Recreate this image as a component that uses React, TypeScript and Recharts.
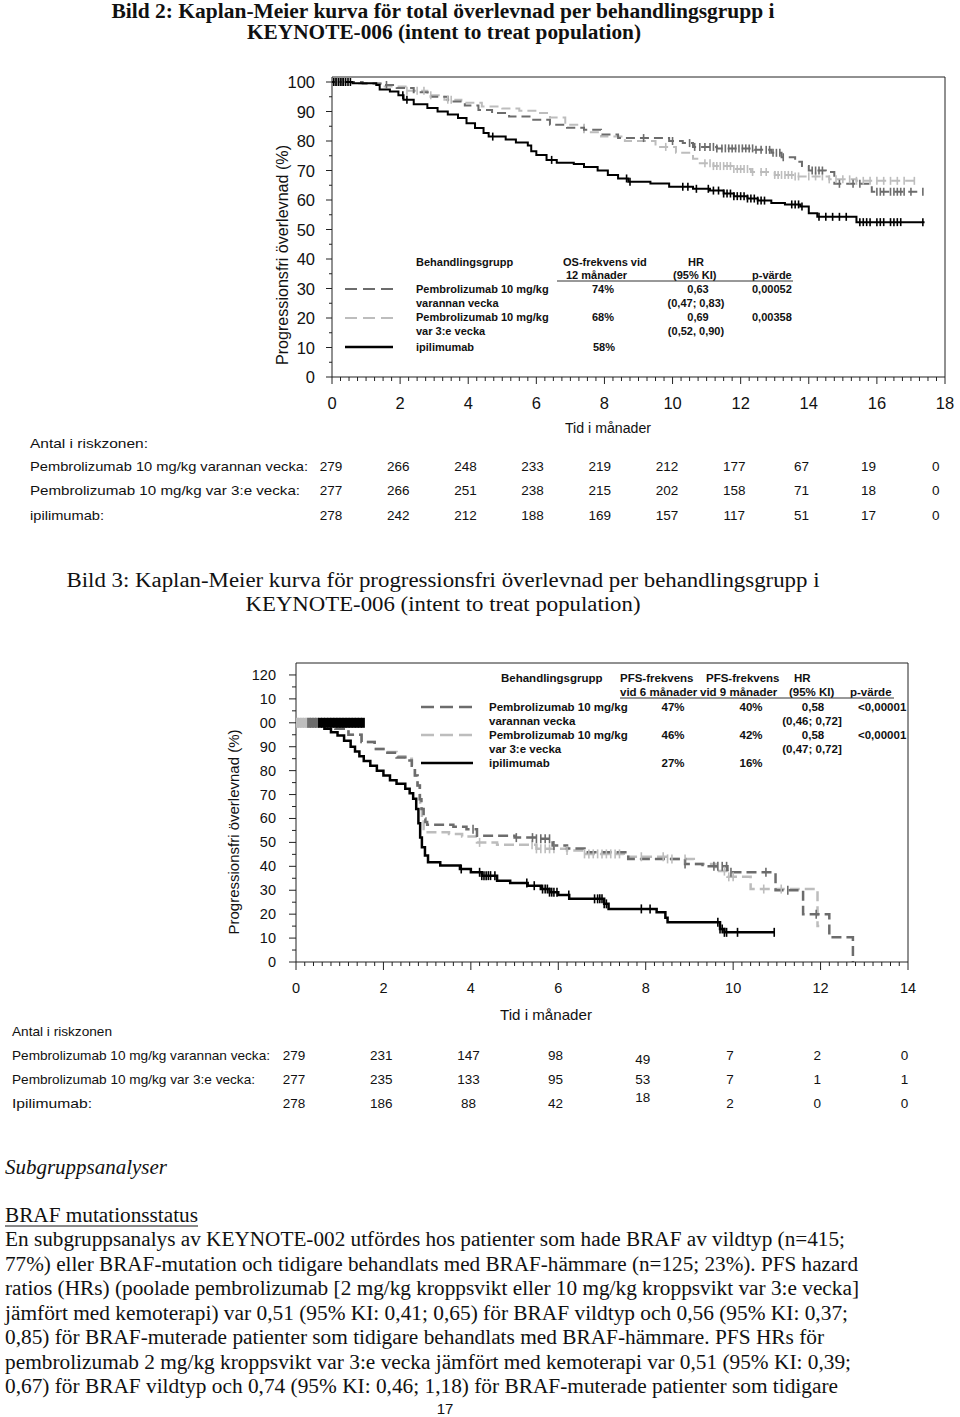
import React from 'react';
import { ComposedChart, Line, Scatter, XAxis, YAxis, ReferenceLine } from 'recharts';

type Pt = [number, number];

// ================= Bild 2: OS =================
const osXTicks = [0, 2, 4, 6, 8, 10, 12, 14, 16, 18];
const osXTickLabels = ['0', '2', '4', '6', '8', '10', '12', '14', '16', '18'];
const osYTicks = [0, 10, 20, 30, 40, 50, 60, 70, 80, 90, 100];
const osYTickLabels = ['0', '10', '20', '30', '40', '50', '60', '70', '80', '90', '100'];

const osQ2w: Pt[] = [[0,100],[0.9,99.5],[1.5,99],[1.9,98],[2.4,96.5],[2.9,95],[3.4,93.4],[3.9,92],[4.3,90.5],[4.7,89.5],[5.2,88.3],[5.8,87.2],[6.4,85.5],[6.9,84.5],[7.4,83.8],[7.9,82.2],[8.4,81],[9.9,80],[10.3,79.3],[10.6,78],[11.3,77.5],[12.4,77],[12.9,76],[13.2,74.5],[13.6,73],[13.8,71.5],[14.0,70],[14.5,69.5],[14.75,65.5],[15.75,64.7],[15.85,62.8],[17.35,62.8]];
const osQ3w: Pt[] = [[0,100],[0.8,99.5],[1.5,98.5],[2.2,97],[2.8,95.5],[3.3,94],[3.8,93],[4.4,91.7],[5.0,91],[5.5,90.3],[6.05,89.5],[6.4,88],[6.85,85.5],[7.4,83],[7.9,81.5],[8.6,80],[9.5,78],[10.1,76],[10.6,74],[10.8,72.5],[11.2,71.5],[11.8,70.5],[12.3,69.5],[13.0,68.5],[13.6,68],[14.6,67],[15.4,66.5],[17.1,66.5]];
const osIpi: Pt[] = [[0,100],[0.6,99.6],[1.3,99],[1.4,97.5],[1.7,96.8],[1.95,95.5],[2.1,94],[2.4,92.5],[2.8,91.2],[3.1,90],[3.4,89],[3.7,87.8],[3.95,86],[4.2,84.4],[4.45,82.7],[4.6,81.5],[5.1,80.5],[5.4,79.5],[5.75,78.5],[5.85,76.5],[6.0,75.3],[6.3,73.6],[6.6,72.6],[7.1,72.2],[7.4,71.2],[7.8,70],[8.1,68.5],[8.4,67.3],[8.7,66.2],[9.35,65.6],[9.9,64.5],[10.6,63.8],[11.1,63.2],[11.5,62.2],[11.8,61.3],[12.2,60.5],[12.5,59.8],[12.9,59],[13.3,58.5],[13.75,57.8],[14.0,55.5],[14.25,54.3],[15.4,52.5],[17.4,52.5]];

const osQ2wCensor = [0.1,0.2,0.3,1.6,9.15,10.0,10.5,10.65,10.8,10.95,11.1,11.2,11.3,11.45,11.55,11.65,11.75,11.85,11.95,12.05,12.15,12.25,12.35,12.45,12.6,12.75,12.85,12.95,13.05,13.15,13.25,14.1,14.2,14.3,14.4,14.9,15.3,15.5,16.0,16.1,16.2,16.4,16.5,16.6,16.7,16.8,17.0,17.35];
const osQ3wCensor = [0.15,0.25,0.35,2.2,2.5,2.7,2.9,3.4,3.5,9.8,10.95,11.1,11.2,11.3,11.4,11.5,11.6,11.7,11.8,11.9,12.0,12.1,12.2,12.35,12.6,12.75,13.0,13.1,13.2,13.3,13.4,13.5,13.6,13.7,14.0,14.2,14.4,14.6,14.8,15.0,15.2,15.4,15.6,15.8,16.0,16.2,16.4,16.6,16.8,17.1];
const osIpiCensor = [0.05,0.12,0.19,0.26,0.33,0.4,0.47,0.54,2.08,2.2,4.72,6.45,8.65,8.75,10.3,10.45,10.7,11.05,11.2,11.35,11.5,11.6,11.7,11.8,11.9,12.0,12.1,12.2,12.3,12.4,12.5,12.6,12.7,13.5,13.6,13.7,13.8,14.3,14.5,14.7,14.9,15.1,15.5,15.6,15.7,15.8,16.0,16.1,16.2,16.4,16.5,16.6,16.7,17.35];

const osRiskQ2w = [279, 266, 248, 233, 219, 212, 177, 67, 19, 0];
const osRiskQ3w = [277, 266, 251, 238, 215, 202, 158, 71, 18, 0];
const osRiskIpi = [278, 242, 212, 188, 169, 157, 117, 51, 17, 0];
const osRiskMonths = [0, 2, 4, 6, 8, 10, 12, 14, 16, 18];

// ================= Bild 3: PFS =================
const pfsXTicks = [0, 2, 4, 6, 8, 10, 12, 14];
const pfsXTickLabels = ['0', '2', '4', '6', '8', '10', '12', '14'];
const pfsYTicks = [0, 10, 20, 30, 40, 50, 60, 70, 80, 90, 100, 110, 120];
const pfsYTickLabels = ['0', '10', '20', '30', '40', '50', '60', '70', '80', '90', '00', '10', '120'];

const pfsQ2w: Pt[] = [[0,100],[0.6,99],[0.9,97.5],[1.2,95],[1.5,92],[1.8,89],[2.0,87.5],[2.3,85.5],[2.5,84.2],[2.65,82],[2.72,78],[2.78,73.8],[2.83,68],[2.87,64],[2.92,60],[2.96,58.5],[3.0,57.4],[3.6,56.5],[3.9,55.5],[4.14,52.8],[5.0,52],[5.5,51.5],[5.87,48.7],[6.2,47.5],[6.6,45.9],[7.6,43.1],[8.9,41],[9.3,40],[9.87,37.5],[10.97,30],[11.6,20],[12.2,10.3],[12.74,0]];
const pfsQ3w: Pt[] = [[0,100],[0.5,99],[0.9,97.5],[1.2,95],[1.5,92],[1.8,89],[2.0,87.8],[2.3,86],[2.5,85],[2.65,82],[2.72,78],[2.78,73.8],[2.84,66],[2.88,60],[2.92,55.6],[2.96,54.2],[3.5,53.5],[3.8,52.5],[4.14,50],[4.6,49],[5.5,47.3],[6.2,46.6],[6.6,45.2],[7.5,44],[8.5,43.1],[9.1,41],[9.6,38],[9.87,35.6],[10.4,30.5],[11.93,15],[11.97,15]];
const pfsIpi: Pt[] = [[0,100],[0.5,99],[0.65,97.5],[0.8,96],[0.95,94.7],[1.1,92.5],[1.25,90],[1.35,88],[1.45,86],[1.55,84],[1.7,82],[1.85,80],[2.0,78],[2.15,76],[2.3,74.5],[2.5,72.4],[2.6,70.5],[2.68,68.2],[2.75,64],[2.8,58],[2.84,52],[2.88,48],[2.95,44.5],[3.02,41.7],[3.3,40.3],[3.75,38.9],[4.0,37.5],[4.25,36.1],[4.6,34],[4.9,33],[5.3,31.9],[5.6,30.5],[5.8,29.2],[6.0,28],[6.25,26.4],[7.05,24.3],[7.15,22.2],[8.25,20.8],[8.45,18.5],[8.5,16.6],[9.7,13.8],[9.8,12.4],[10.95,12.4]];

const pfsStartLevel = 100;
const pfsStartQ3w = [0.02, 0.08, 0.14, 0.2, 0.26];
const pfsStartQ2w = [0.3, 0.36, 0.42, 0.48];
const pfsStartIpi = [0.55, 0.62, 0.69, 0.76, 0.83, 0.9, 0.97, 1.04, 1.11, 1.18, 1.25, 1.32, 1.39, 1.46, 1.53];

const pfsQ2wCensor = [4.05,5.04,5.41,5.5,5.6,5.7,5.8,5.9,8.9,9.56,9.65,9.75,9.85,9.95,10.75,11.25,11.9];
const pfsQ3wCensor = [4.2,5.4,5.5,5.6,5.7,5.8,5.9,6.2,6.6,6.7,6.8,6.9,7.0,7.1,7.2,7.3,7.4,7.9,8.4,8.5,8.6,8.9,9.8,9.9,10.0,10.7,11.1];
const pfsIpiCensor = [3.78,4.2,4.25,4.3,4.35,4.4,4.45,4.55,5.28,5.45,5.64,5.7,5.75,5.8,5.85,5.9,5.97,6.24,6.83,6.9,6.95,7.0,7.05,7.1,7.9,8.1,9.65,9.7,9.75,9.8,9.85,10.1,10.94];

const pfsRiskQ2w = [279, 231, 147, 98, 49, 7, 2, 0];
const pfsRiskQ3w = [277, 235, 133, 95, 53, 7, 1, 1];
const pfsRiskIpi = [278, 186, 88, 42, 18, 2, 0, 0];
const pfsRiskMonths = [0, 2, 4, 6, 8, 10, 12, 14];

// ================= helpers =================
const SANS = "'Liberation Sans', Arial, Helvetica, sans-serif";
const SERIF = "'Liberation Serif', 'Times New Roman', Times, serif";
const DARK = '#6c6c6c';
const LIGHT = '#bdbdbd';

const toData = (c: Pt[]) => c.map(([t, s]) => ({ t, s }));
const stepAt = (c: Pt[], t: number) => {
  let s = c[0][1];
  for (const [x, y] of c) if (x <= t) s = y;
  return s;
};
const censorData = (c: Pt[], times: number[]) => times.map((t) => ({ t, s: stepAt(c, t) }));
const levelData = (level: number, times: number[]) => times.map((t) => ({ t, s: level }));

const range = (start: number, end: number, step: number) => {
  const out: number[] = [];
  const n = Math.round((end - start) / step);
  for (let i = 0; i <= n; i++) out.push(+(start + i * step).toFixed(4));
  return out;
};

type AxisCfg = { majors: number[]; labels: string[]; majorLen: number; minorLen: number; gap: number; fontSize: number };

function renderXTick(p: any, cfg: AxisCfg) {
  const v = Number(p.payload.value);
  const idx = cfg.majors.findIndex((m) => Math.abs(m - v) < 1e-6);
  const major = idx >= 0;
  return (
    <g>
      <line x1={p.x} x2={p.x} y1={p.y} y2={p.y + (major ? cfg.majorLen : cfg.minorLen)} stroke="#222" strokeWidth={1} />
      {major && (
        <text x={p.x} y={p.y + cfg.gap} textAnchor="middle" dominantBaseline="central" fontFamily={SANS} fontSize={cfg.fontSize} fill="#111">
          {cfg.labels[idx]}
        </text>
      )}
    </g>
  );
}

function renderYTick(p: any, cfg: AxisCfg) {
  const v = Number(p.payload.value);
  const idx = cfg.majors.findIndex((m) => Math.abs(m - v) < 1e-6);
  const major = idx >= 0;
  return (
    <g>
      <line x1={p.x - (major ? cfg.majorLen : cfg.minorLen)} x2={p.x} y1={p.y} y2={p.y} stroke="#222" strokeWidth={1} />
      {major && (
        <text x={p.x - cfg.gap} y={p.y} textAnchor="end" dominantBaseline="central" fontFamily={SANS} fontSize={cfg.fontSize} fill="#111">
          {cfg.labels[idx]}
        </text>
      )}
    </g>
  );
}

const tickShape = (h: number, color: string, w: number) => (p: any) => (
  <line x1={p.cx} x2={p.cx} y1={p.cy - h / 2} y2={p.cy + h / 2} stroke={color} strokeWidth={w} />
);

type CurveSpec = { data: Pt[]; color: string; dash?: string; width: number; censor: number[]; extra?: number[] };

function KMChart(props: {
  top: number; height: number; margin: any; xMax: number; yMax: number;
  xMinorStep: number; xCfg: AxisCfg; yCfg: AxisCfg; xHeight: number;
  curves: CurveSpec[]; censorH: number; startLevel?: number;
}) {
  const { xCfg, yCfg } = props;
  const xAll = range(0, props.xMax, props.xMinorStep);
  const yAll = range(0, yCfg.majors[yCfg.majors.length - 1], 5);
  return (
    <div style={{ position: 'absolute', left: 0, top: props.top }}>
      <ComposedChart width={960} height={props.height} margin={props.margin}>
        <XAxis type="number" dataKey="t" domain={[0, props.xMax]} ticks={xAll} interval={0} allowDataOverflow
          tickSize={0} tickMargin={0} tickLine={false} axisLine={{ stroke: '#222' }} height={props.xHeight}
          tick={(p: any) => renderXTick(p, xCfg)} />
        <YAxis type="number" dataKey="s" domain={[0, props.yMax]} ticks={yAll} interval={0} allowDataOverflow
          tickSize={0} tickMargin={0} tickLine={false} axisLine={{ stroke: '#222' }} width={60}
          tick={(p: any) => renderYTick(p, yCfg)} />
        <ReferenceLine y={props.yMax} stroke="#222" strokeWidth={1} ifOverflow="visible" />
        <ReferenceLine x={props.xMax} stroke="#222" strokeWidth={1} ifOverflow="visible" />
        {props.curves.map((c, i) => (
          <Line key={'l' + i} data={toData(c.data)} dataKey="s" type="stepAfter" stroke={c.color} strokeWidth={c.width}
            strokeDasharray={c.dash} dot={false} activeDot={false} isAnimationActive={false} legendType="none" />
        ))}
        {props.curves.map((c, i) => (
          <Scatter key={'c' + i} data={censorData(c.data, c.censor)} dataKey="s" isAnimationActive={false}
            shape={tickShape(props.censorH, c.color, 1.6)} legendType="none" />
        ))}
        {props.curves.map((c, i) =>
          c.extra ? (
            <Scatter key={'e' + i} data={levelData(props.startLevel ?? 100, c.extra)} dataKey="s" isAnimationActive={false}
              shape={tickShape(props.censorH + 1, c.color, 4)} legendType="none" />
          ) : null
        )}
      </ComposedChart>
    </div>
  );
}

// ================= page text =================
const T = (p: { x: number; y: number; children: any; size?: number; bold?: boolean; italic?: boolean; anchor?: string; family?: string; len?: number; fill?: string }) => (
  <text x={p.x} y={p.y} fontSize={p.size ?? 11} fontWeight={p.bold ? 'bold' : 'normal'} fontStyle={p.italic ? 'italic' : 'normal'}
    textAnchor={(p.anchor as any) ?? 'start'} dominantBaseline="central" fontFamily={p.family ?? SANS} fill={p.fill ?? '#111'}
    textLength={p.len} lengthAdjust={p.len ? 'spacingAndGlyphs' : undefined}>
    {p.children}
  </text>
);

const paragraph = [
  'En subgruppsanalys av KEYNOTE-002 utfördes hos patienter som hade BRAF av vildtyp (n=415;',
  '77%) eller BRAF-mutation och tidigare behandlats med BRAF-hämmare (n=125; 23%). PFS hazard',
  'ratios (HRs) (poolade pembrolizumab [2 mg/kg kroppsvikt eller 10 mg/kg kroppsvikt var 3:e vecka]',
  'jämfört med kemoterapi) var 0,51 (95% KI: 0,41; 0,65) för BRAF vildtyp och 0,56 (95% KI: 0,37;',
  '0,85) för BRAF-muterade patienter som tidigare behandlats med BRAF-hämmare. PFS HRs för',
  'pembrolizumab 2 mg/kg kroppsvikt var 3:e vecka jämfört med kemoterapi var 0,51 (95% KI: 0,39;',
  '0,67) för BRAF vildtyp och 0,74 (95% KI: 0,46; 1,18) för BRAF-muterade patienter som tidigare',
];
const paragraphEnds = [845, 858, 859, 848, 824, 851, 838];

function Overlay() {
  const osX = (t: number) => 331 + t * 33.6;
  const pfsX = (t: number) => 294 + t * 43.6;
  return (
    <svg width={960} height={1417} style={{ position: 'absolute', left: 0, top: 0, pointerEvents: 'none' }}>
      {/* Titles */}
      <T x={443} y={11} size={20} bold family={SERIF} anchor="middle" len={663}>Bild 2: Kaplan-Meier kurva för total överlevnad per behandlingsgrupp i</T>
      <T x={444} y={32} size={20} bold family={SERIF} anchor="middle" len={394}>KEYNOTE-006 (intent to treat population)</T>

      {/* Chart 1 axis titles */}
      <text x={282} y={255} transform="rotate(-90 282 255)" textAnchor="middle" dominantBaseline="central" fontFamily={SANS} fontSize={16} fill="#111" textLength={220} lengthAdjust="spacingAndGlyphs">Progressionsfri överlevnad (%)</text>
      <T x={608} y={428} size={14} anchor="middle" len={86}>Tid i månader</T>

      {/* Legend 1 */}
      <g fontWeight="bold">
        <T x={416} y={262} bold>Behandlingsgrupp</T>
        <T x={563} y={262} bold>OS-frekvens vid</T>
        <T x={566} y={275} bold>12 månader</T>
        <T x={688} y={262} bold>HR</T>
        <T x={673} y={275} bold>(95% KI)</T>
        <T x={752} y={275} bold>p-värde</T>
        <line x1={557} x2={793} y1={281} y2={281} stroke="#333" strokeWidth={1} />
        <line x1={345} x2={393} y1={289} y2={289} stroke={DARK} strokeWidth={2} strokeDasharray="12 6" />
        <T x={416} y={289} bold>Pembrolizumab 10 mg/kg</T>
        <T x={603} y={289} bold anchor="middle">74%</T>
        <T x={698} y={289} bold anchor="middle">0,63</T>
        <T x={752} y={289} bold>0,00052</T>
        <T x={416} y={303} bold>varannan vecka</T>
        <T x={696} y={303} bold anchor="middle">(0,47; 0,83)</T>
        <line x1={345} x2={393} y1={318} y2={318} stroke={LIGHT} strokeWidth={2} strokeDasharray="12 6" />
        <T x={416} y={317} bold>Pembrolizumab 10 mg/kg</T>
        <T x={603} y={317} bold anchor="middle">68%</T>
        <T x={698} y={317} bold anchor="middle">0,69</T>
        <T x={752} y={317} bold>0,00358</T>
        <T x={416} y={331} bold>var 3:e vecka</T>
        <T x={696} y={331} bold anchor="middle">(0,52, 0,90)</T>
        <line x1={345} x2={393} y1={347} y2={347} stroke="#000" strokeWidth={2.5} />
        <T x={416} y={347} bold>ipilimumab</T>
        <T x={604} y={347} bold anchor="middle">58%</T>
      </g>

      {/* Risk table 1 */}
      <T x={30} y={443} size={13.5} len={118}>Antal i riskzonen:</T>
      <T x={30} y={466} size={13.5} len={278}>Pembrolizumab  10 mg/kg varannan vecka:</T>
      <T x={30} y={490} size={13.5} len={270}>Pembrolizumab  10 mg/kg var 3:e vecka:</T>
      <T x={30} y={515} size={13.5} len={74}>ipilimumab:</T>
      {osRiskMonths.map((m, i) => (
        <g key={'r1' + i}>
          <T x={osX(m)} y={466} size={13.5} anchor="middle">{osRiskQ2w[i]}</T>
          <T x={osX(m)} y={490} size={13.5} anchor="middle">{osRiskQ3w[i]}</T>
          <T x={osX(m)} y={515} size={13.5} anchor="middle">{osRiskIpi[i]}</T>
        </g>
      ))}

      {/* Title 2 */}
      <T x={443} y={580} size={20} family={SERIF} anchor="middle" len={753}>Bild 3: Kaplan-Meier kurva för progressionsfri överlevnad per behandlingsgrupp i</T>
      <T x={443} y={604} size={20} family={SERIF} anchor="middle" len={395}>KEYNOTE-006 (intent to treat population)</T>

      {/* Chart 2 axis titles */}
      <text x={233} y={832} transform="rotate(-90 233 832)" textAnchor="middle" dominantBaseline="central" fontFamily={SANS} fontSize={15} fill="#111" textLength={205} lengthAdjust="spacingAndGlyphs">Progressionsfri överlevnad (%)</text>
      <T x={546} y={1014} size={15} anchor="middle" len={92}>Tid i månader</T>

      {/* Legend 2 */}
      <g>
        <T x={501} y={678} bold size={11.5}>Behandlingsgrupp</T>
        <T x={620} y={678} bold size={11.5}>PFS-frekvens</T>
        <T x={706} y={678} bold size={11.5}>PFS-frekvens</T>
        <T x={794} y={678} bold size={11.5}>HR</T>
        <T x={620} y={692} bold size={11.5}>vid 6 månader</T>
        <T x={700} y={692} bold size={11.5}>vid 9 månader</T>
        <T x={789} y={692} bold size={11.5}>(95% KI)</T>
        <T x={850} y={692} bold size={11.5}>p-värde</T>
        <line x1={620} x2={894} y1={698} y2={698} stroke="#333" strokeWidth={1} />
        <line x1={421} x2={473} y1={707} y2={707} stroke={DARK} strokeWidth={2.5} strokeDasharray="13 6" />
        <T x={489} y={707} bold size={11.5}>Pembrolizumab 10 mg/kg</T>
        <T x={673} y={707} bold size={11.5} anchor="middle">47%</T>
        <T x={751} y={707} bold size={11.5} anchor="middle">40%</T>
        <T x={813} y={707} bold size={11.5} anchor="middle">0,58</T>
        <T x={858} y={707} bold size={11.5}>&lt;0,00001</T>
        <T x={489} y={721} bold size={11.5}>varannan vecka</T>
        <T x={812} y={721} bold size={11.5} anchor="middle">(0,46; 0,72]</T>
        <line x1={421} x2={473} y1={735} y2={735} stroke={LIGHT} strokeWidth={2.5} strokeDasharray="13 6" />
        <T x={489} y={735} bold size={11.5}>Pembrolizumab 10 mg/kg</T>
        <T x={673} y={735} bold size={11.5} anchor="middle">46%</T>
        <T x={751} y={735} bold size={11.5} anchor="middle">42%</T>
        <T x={813} y={735} bold size={11.5} anchor="middle">0,58</T>
        <T x={858} y={735} bold size={11.5}>&lt;0,00001</T>
        <T x={489} y={749} bold size={11.5}>var 3:e vecka</T>
        <T x={812} y={749} bold size={11.5} anchor="middle">(0,47; 0,72]</T>
        <line x1={421} x2={473} y1={763} y2={763} stroke="#000" strokeWidth={2.5} />
        <T x={489} y={763} bold size={11.5}>ipilimumab</T>
        <T x={673} y={763} bold size={11.5} anchor="middle">27%</T>
        <T x={751} y={763} bold size={11.5} anchor="middle">16%</T>
      </g>

      {/* Risk table 2 */}
      <T x={12} y={1031} size={13} len={100}>Antal i riskzonen</T>
      <T x={12} y={1055} size={13} len={258}>Pembrolizumab 10 mg/kg varannan vecka:</T>
      <T x={12} y={1079} size={13} len={243}>Pembrolizumab 10 mg/kg var 3:e vecka:</T>
      <T x={12} y={1103} size={13} len={80}>Ipilimumab:</T>
      {pfsRiskMonths.map((m, i) => (
        <g key={'r2' + i}>
          <T x={pfsX(m)} y={1055 + (i === 4 ? 4 : 0)} size={13.5} anchor="middle">{pfsRiskQ2w[i]}</T>
          <T x={pfsX(m)} y={1079} size={13.5} anchor="middle">{pfsRiskQ3w[i]}</T>
          <T x={pfsX(m)} y={1103 - (i === 4 ? 6 : 0)} size={13.5} anchor="middle">{pfsRiskIpi[i]}</T>
        </g>
      ))}

      {/* Body text */}
      <T x={5} y={1167} size={20} italic family={SERIF} len={162}>Subgruppsanalyser</T>
      <T x={5} y={1215} size={20} family={SERIF} len={193}>BRAF mutationsstatus</T>
      <line x1={5} x2={198} y1={1226} y2={1226} stroke="#111" strokeWidth={1} />
      {paragraph.map((line, i) => (
        <T key={'p' + i} x={5} y={1239 + i * 24.5} size={20} family={SERIF} len={paragraphEnds[i] - 5}>{line}</T>
      ))}
      <T x={445} y={1408} size={15} anchor="middle">17</T>
    </svg>
  );
}

export default function App() {
  const osXCfg: AxisCfg = { majors: osXTicks, labels: osXTickLabels, majorLen: 7, minorLen: 4, gap: 26, fontSize: 16.5 };
  const osYCfg: AxisCfg = { majors: osYTicks, labels: osYTickLabels, majorLen: 6, minorLen: 3, gap: 17, fontSize: 16.5 };
  const pfsXCfg: AxisCfg = { majors: pfsXTicks, labels: pfsXTickLabels, majorLen: 8, minorLen: 4, gap: 26, fontSize: 14.5 };
  const pfsYCfg: AxisCfg = { majors: pfsYTicks, labels: pfsYTickLabels, majorLen: 7, minorLen: 4, gap: 20, fontSize: 14.5 };

  return (
    <div style={{ position: 'absolute', left: 0, top: 0, width: 960, height: 1417, background: '#fff', overflow: 'hidden' }}>
      <KMChart top={0} height={420} margin={{ top: 77, right: 15, bottom: 0, left: 272 }} xMax={18} yMax={101.7}
        xMinorStep={0.25} xCfg={osXCfg} yCfg={osYCfg} xHeight={43} censorH={8}
        curves={[
          { data: osQ3w, color: LIGHT, dash: '9 5', width: 2, censor: osQ3wCensor },
          { data: osQ2w, color: DARK, dash: '9 5', width: 2, censor: osQ2wCensor },
          { data: osIpi, color: '#000', width: 2, censor: osIpiCensor },
        ]} />
      <KMChart top={600} height={405} margin={{ top: 63, right: 52, bottom: 0, left: 236 }} xMax={14} yMax={125}
        xMinorStep={0.2} xCfg={pfsXCfg} yCfg={pfsYCfg} xHeight={43} censorH={9} startLevel={pfsStartLevel}
        curves={[
          { data: pfsQ3w, color: LIGHT, dash: '10 5', width: 2.5, censor: pfsQ3wCensor, extra: pfsStartQ3w },
          { data: pfsQ2w, color: DARK, dash: '10 5', width: 2.5, censor: pfsQ2wCensor, extra: pfsStartQ2w },
          { data: pfsIpi, color: '#000', width: 2.5, censor: pfsIpiCensor, extra: pfsStartIpi },
        ]} />
      <Overlay />
    </div>
  );
}
